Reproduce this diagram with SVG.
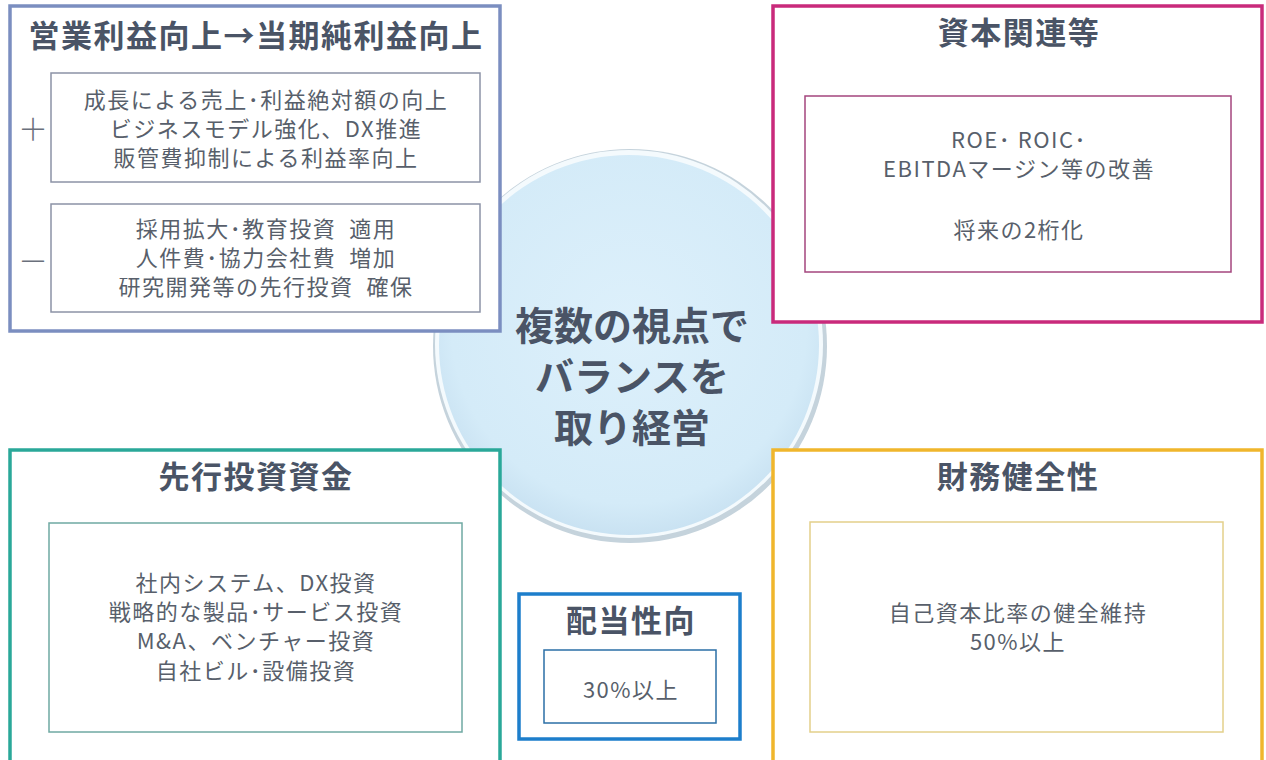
<svg xmlns="http://www.w3.org/2000/svg" width="1266" height="760" viewBox="0 0 1266 760">
<defs>
<radialGradient id="cg" cx="50%" cy="45%" r="55%">
<stop offset="0" stop-color="#ddf0fb"/>
<stop offset="0.85" stop-color="#d4ebf8"/>
<stop offset="1" stop-color="#c9e2f2"/>
</radialGradient>
<style>
.t{font-family:"Noto Sans CJK JP","Noto Sans",sans-serif;font-weight:700;fill:#4a5466;text-anchor:middle;letter-spacing:1.5px}
.c{font-family:"Noto Sans CJK JP","Noto Sans",sans-serif;font-weight:700;fill:#4a5466;text-anchor:middle;font-size:39px}
.b{font-family:"Noto Sans CJK JP","Noto Sans",sans-serif;font-size:22px;fill:#585f6b;text-anchor:middle;letter-spacing:1.5px;white-space:pre}
.s{font-family:"Noto Sans CJK JP","Noto Sans",sans-serif;font-size:30px;font-weight:300;fill:#6a707c;text-anchor:middle}
.outer{fill:#ffffff;stroke-width:3.5}
.inner{fill:#ffffff;stroke-width:1.5}
</style>
</defs>
<rect width="1266" height="760" fill="#ffffff"/>
<g id="center">
<circle cx="630" cy="346" r="197" fill="#c5d3dc"/>
<circle cx="629" cy="344" r="194" fill="#f4fafd"/>
<circle cx="629" cy="345" r="190" fill="url(#cg)"/>
<text class="c" x="632" y="340">複数の視点で</text>
<text class="c" x="632" y="391">バランスを</text>
<text class="c" x="632" y="442">取り経営</text>
</g>
<g id="connectors"></g>
<g id="profit">
<rect class="outer" x="10" y="6" width="490" height="325" stroke="#7b8ec0"/>
<text class="t" x="256" y="47" font-size="31">営業利益向上→当期純利益向上</text>
<rect class="inner" x="51" y="73" width="429" height="109" stroke="#8c93a6"/>
<rect class="inner" x="51" y="204" width="429" height="108" stroke="#8c93a6"/>
<text class="s" x="33" y="140">＋</text>
<text class="s" x="33" y="272">－</text>
<text class="b" x="266" y="108">成長による売上･利益絶対額の向上</text>
<text class="b" x="266" y="137">ビジネスモデル強化、DX推進</text>
<text class="b" x="266" y="166">販管費抑制による利益率向上</text>
<text class="b" x="266" y="237" xml:space="preserve">採用拡大･教育投資  適用</text>
<text class="b" x="266" y="266" xml:space="preserve">人件費･協力会社費  増加</text>
<text class="b" x="266" y="295" xml:space="preserve">研究開発等の先行投資  確保</text>
</g>
<g id="capital">
<rect class="outer" x="773" y="6" width="489" height="316" stroke="#c92a7b"/>
<text class="t" x="1019" y="44" font-size="31">資本関連等</text>
<rect class="inner" x="805" y="96" width="426" height="176" stroke="#a4467e"/>
<text class="b" x="1019" y="148">ROE･ ROIC･</text>
<text class="b" x="1019" y="177">EBITDAマージン等の改善</text>
<text class="b" x="1019" y="238">将来の2桁化</text>
</g>
<g id="investment">
<rect class="outer" x="10" y="450" width="490" height="320" stroke="#2aa899"/>
<text class="t" x="256" y="488" font-size="31">先行投資資金</text>
<rect class="inner" x="49" y="523" width="413" height="209" stroke="#6fa9a3"/>
<text class="b" x="256" y="591">社内システム、DX投資</text>
<text class="b" x="256" y="620">戦略的な製品･サービス投資</text>
<text class="b" x="256" y="649">M&amp;A、ベンチャー投資</text>
<text class="b" x="256" y="679">自社ビル･設備投資</text>
</g>
<g id="dividend">
<rect class="outer" x="519" y="594" width="221" height="145" stroke="#1d7ecb" stroke-width="4"/>
<text class="t" x="631" y="632" font-size="31">配当性向</text>
<rect class="inner" x="544" y="650" width="172" height="73" stroke="#2b6fa6"/>
<text class="b" x="631" y="698" font-size="24">30%以上</text>
</g>
<g id="soundness">
<rect class="outer" x="773" y="450" width="489" height="320" stroke="#f0b62c"/>
<text class="t" x="1018" y="488" font-size="31">財務健全性</text>
<rect class="inner" x="810" y="522" width="413" height="210" stroke="#e3d08a"/>
<text class="b" x="1018" y="621">自己資本比率の健全維持</text>
<text class="b" x="1018" y="650">50%以上</text>
</g>
</svg>
